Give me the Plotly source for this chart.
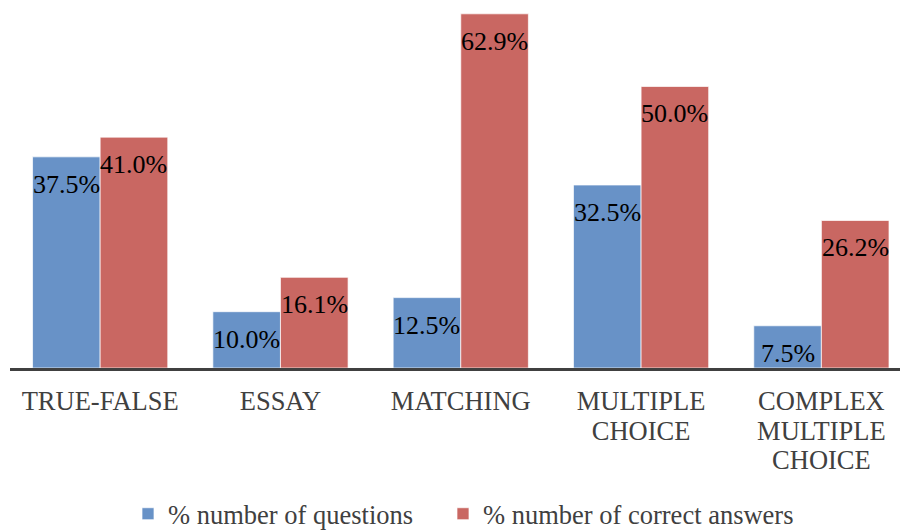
import plotly.graph_objects as go

categories = ["TRUE-FALSE", "ESSAY", "MATCHING", "MULTIPLE CHOICE", "COMPLEX MULTIPLE CHOICE"]
tick_labels = ["TRUE-FALSE", "ESSAY", "MATCHING", "MULTIPLE<br>CHOICE", "COMPLEX<br>MULTIPLE<br>CHOICE"]
pct_questions = [37.5, 10.0, 12.5, 32.5, 7.5]
pct_correct = [41.0, 16.1, 62.9, 50.0, 26.2]
series_names = ["% number of questions", "% number of correct answers"]
series_colors = ["#6892C7", "#C96762"]

FONT = "Liberation Serif, Times New Roman, serif"
BARGAP = 0.25

fig = go.Figure()
xs = list(range(len(categories)))
for k, (name, vals, col) in enumerate(zip(series_names, [pct_questions, pct_correct], series_colors)):
    fig.add_trace(go.Bar(
        x=xs, y=vals, name=name,
        marker=dict(color=col, line=dict(color="rgba(255,255,255,0.7)", width=1)),
        hoverinfo="skip",
        legend="legend" if k == 0 else "legend2",
    ))

# data labels, placed inside the bar tops in data coordinates
half = (1 - BARGAP) / 4
for k, vals in enumerate([pct_questions, pct_correct]):
    off = -half if k == 0 else half
    for i, v in enumerate(vals):
        fig.add_annotation(
            x=i + off, y=v, xref="x", yref="y",
            text=f"{v:.1f}%", showarrow=False,
            yanchor="top", xanchor="center", yshift=-11,
            font=dict(family=FONT, size=26, color="#000000"),
        )

styled_ticks = ["<br>".join(f"<span style='font-size:26.5px'>{p}</span>" for p in t.split("<br>")) for t in tick_labels]

legend_common = dict(orientation="h", xanchor="left", y=-0.3989, yanchor="middle",
                     font=dict(family=FONT, size=26.5, color="#404040"),
                     itemwidth=30, bgcolor="rgba(0,0,0,0)")

fig.update_layout(
    width=900, height=530,
    margin=dict(l=10, r=0, t=2, b=162, autoexpand=False),
    paper_bgcolor="white", plot_bgcolor="white",
    barmode="group", bargap=BARGAP, bargroupgap=0,
    font=dict(family=FONT, color="#404040"),
    showlegend=True,
    legend=dict(x=0.1326, **legend_common),
    legend2=dict(x=0.4865, **legend_common),
    xaxis=dict(
        tickmode="array", tickvals=xs, ticktext=styled_ticks,
        range=[-0.5, 4.436], showline=True, linecolor="#404040", linewidth=3,
        showgrid=False, zeroline=False, ticks="", ticklabelstandoff=11,
        tickfont=dict(family=FONT, size=23, color="#404040"),
    ),
    yaxis=dict(range=[0, 65], visible=False, showgrid=False, zeroline=False),
)

fig.write_html("out.html")
